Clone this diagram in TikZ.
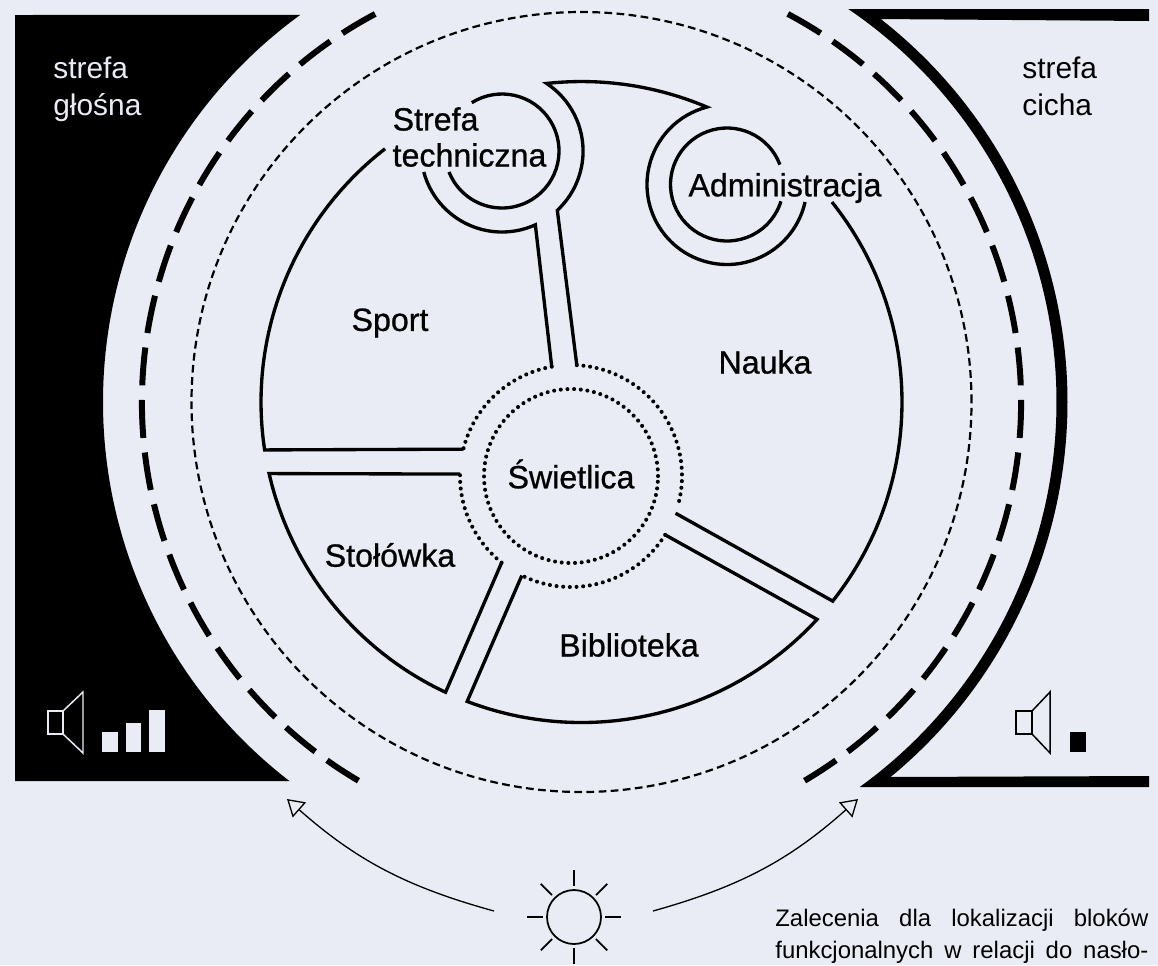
\documentclass[tikz,border=0pt]{standalone}
\usepackage{fontspec}
\setmainfont{Liberation Sans}
\newfontfamily\blockfont[FakeBold=0.8]{Liberation Sans}
\usetikzlibrary{arrows.meta, calc}
\definecolor{paleblue}{HTML}{E9ECF4}
\tikzstyle{wall} = [line width=1.9pt, miter limit=12]
\tikzstyle{dotwall} = [line width=2.3pt, line cap=round, dash pattern=on 0pt off 3.8pt]
\tikzstyle{thinring} = [line width=1.25pt, dash pattern=on 4.4pt off 2.5pt]
\tikzstyle{bigring} = [line width=3.4pt, dash pattern=on 0.76cm off 0.2925cm]
\tikzstyle{block} = [inner sep=0pt, font=\blockfont\fontsize{18.3}{20.5}\selectfont, align=left]
\tikzstyle{zone} = [inner sep=0pt, anchor=north west, font=\fontsize{17}{20.5}\selectfont, align=left]
\tikzstyle{speaker} = [line width=0.85pt]
\tikzstyle{sunline} = [line width=1pt]
\tikzstyle{arrow} = [line width=0.75pt, -{Triangle[open, length=9.4pt, width=11.4pt]}]

\begin{document}
\begin{tikzpicture}

\useasboundingbox [fill=paleblue] (0,0) rectangle (23.16,-19.3);

\coordinate (hall) at (11.63,-8.04);
\coordinate (club) at (11.42,-9.52);
\coordinate (tech) at (10.04,-3.02);
\coordinate (admin) at (14.54,-3.69);

% Zones
\fill ($(hall)+(126:9.57)$) arc[start angle=126, end angle=232.4, radius=9.57] -- (0.3,-15.62) -- (0.3,-0.3) -- cycle;
\fill (22.98,-0.18) -- ($(hall)+(55.8:9.5)$) arc[start angle=55.8, end angle=-54.15, radius=9.5] -- (22.98,-15.74) -- (22.98,-15.52) -- ($(hall)+(-50.5:9.72)$) arc[start angle=-50.5, end angle=52, radius=9.72] -- (22.98,-0.42) -- cycle;

% Rings
\draw [bigring] ($(hall)+(118:8.79)$) arc[start angle=118, end angle=239.5, radius=8.79];
\draw [bigring] ($(hall)+(62:8.79)$) arc[start angle=62, end angle=-59.5, radius=8.79];
\draw [thinring] (hall) circle (7.8);

% Sport
\draw [wall] ($(club)+(166:2.22)$) -- ($(hall)+(188.6:6.41)$) arc[start angle=188.6, end angle=127.8, radius=6.41];
\draw [wall] ($(tech)+(195:1.62)$) arc[start angle=195, end angle=294.3, radius=1.62] -- ($(club)+(100:2.22)$);
\draw [dotwall] ($(club)+(100:2.22)$) arc[start angle=100, end angle=166, radius=2.22];
\draw [wall] ($(tech)+(122:1.14)$) arc[start angle=122, end angle=-158.4, radius=1.14];

% Nauka
\draw [wall] ($(admin)+(-12.6:1.6)$) arc[start angle=-12.6, end angle=-255.45, radius=1.6] arc[start angle=66.97, end angle=96.25, radius=6.41] arc[start angle=56.6, end angle=-47, radius=1.62] -- ($(club)+(87:2.22)$);
\draw [dotwall] ($(club)+(87:2.22)$) arc[start angle=87, end angle=-16.3, radius=2.22];
\draw [wall] ($(club)+(-19.6:2.22)$) -- ($(hall)+(-38.4:6.41)$) arc[start angle=-38.4, end angle=38.6, radius=6.41];
\draw [wall] ($(admin)+(20.6:1.13)$) arc[start angle=20.6, end angle=342.7, radius=1.13];

% Biblioteka
\draw [wall] ($(club)+(-32:2.22)$) -- ($(hall)+(-42.7:6.41)$) arc[start angle=-42.7, end angle=-110.9, radius=6.41] -- ($(club)+(-116.3:2.22)$);
\draw [dotwall] ($(club)+(-32:2.22)$) arc[start angle=-32, end angle=-116.3, radius=2.22];

% Stolowka
\draw [wall] ($(club)+(179:2.22)$) -- ($(hall)+(192.9:6.41)$) arc[start angle=192.9, end angle=244.9, radius=6.41] -- ($(club)+(-128.7:2.22)$);
\draw [dotwall] ($(club)+(-128.7:2.22)$) arc[start angle=-128.7, end angle=-181, radius=2.22];

\draw [dotwall] (club) circle (1.74);

% Nodes
\node (sport) at (7.8,-6.46) [block] {Sport};
\node (nauka) at (15.3,-7.24) [block] {Nauka};
\node (swietlica) at (11.42,-9.48) [block] {Świetlica};
\node (stolowka) at (7.8,-11.1) [block] {Stołówka};
\node (biblioteka) at (12.58,-12.9) [block] {Biblioteka};
\node (administracja) at (15.7,-3.76) [block] {Administracja};
\node (techniczna) at (9.39,-2.74) [block] {Strefa\\techniczna};

\node (glosna) at (1.06,-1.14) [zone, text=paleblue] {strefa\\głośna};
\node (cicha) at (20.44,-1.14) [zone] {strefa\\cicha};

\node (note) at (15.5,-18.17) [inner sep=0pt, anchor=north west, align=left, font=\fontsize{13.6}{18.2}\selectfont] {\makebox[7.46cm][s]{Zalecenia dla lokalizacji bloków}\\\makebox[7.46cm][s]{funkcjonalnych w relacji do nasło-}};

% Speakers
\draw [speaker, draw=paleblue] (0.96,-14.22) rectangle (1.26,-14.68);
\draw [speaker, draw=paleblue] (1.26,-14.22) -- (1.66,-13.84) -- (1.66,-15.06) -- (1.26,-14.68);
\fill [paleblue] (2.04,-14.64) rectangle (2.36,-15.04);
\fill [paleblue] (2.51,-14.46) rectangle (2.82,-15.04);
\fill [paleblue] (2.98,-14.2) rectangle (3.3,-15.04);

\draw [speaker] (20.32,-14.22) rectangle (20.64,-14.68);
\draw [speaker] (20.64,-14.22) -- (21,-13.84) -- (21,-15.06) -- (20.64,-14.68);
\fill (21.4,-14.64) rectangle (21.72,-15.04);

% Sun
\node (sun) at (11.48,-18.34) [circle, draw, sunline, inner sep=0pt, minimum size=1.08cm] {};
\foreach \a in {0,45,...,315}
  \draw [sunline] ($(sun)+(\a:0.62)$) -- ($(sun)+(\a:0.94)$);

% Arrows
\coordinate (sunleft) at (9.88,-18.22);
\coordinate (sunright) at (13.06,-18.22);
\coordinate (loud) at (5.74,-15.98);
\coordinate (quiet) at (17.16,-15.98);
\draw [arrow] (sunleft) to[bend left=13] (loud);
\draw [arrow] (sunright) to[bend right=13] (quiet);

\end{tikzpicture}
\end{document}
